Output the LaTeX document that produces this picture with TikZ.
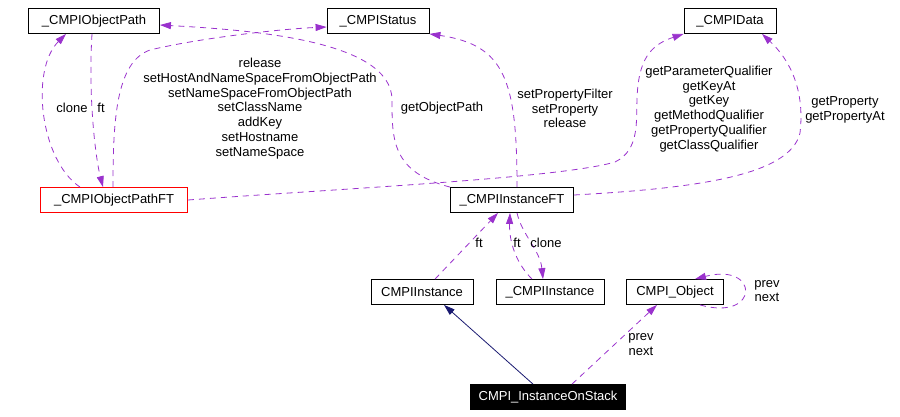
\documentclass[tikz,border=0pt]{standalone}
\usepackage{fontspec}
\setmainfont{Liberation Sans}
\usetikzlibrary{arrows.meta,calc}

\definecolor{orchid}{RGB}{154,50,205}
\definecolor{navyline}{RGB}{25,25,112}

\begin{document}
\begin{tikzpicture}[x=1pt,y=-1pt,
	cls/.style={draw,line width=0.8pt,inner sep=0pt,minimum height=25pt,font=\fontsize{13}{14.8}\selectfont},
	member/.style={draw=orchid,line width=0.8pt,dash pattern=on 6pt off 5pt,-{Triangle[length=11pt,width=7pt]}},
	inherit/.style={draw=navyline,line width=0.8pt,-{Triangle[length=11pt,width=7pt]}},
	lbl/.style={align=center,inner sep=0pt,font=\fontsize{13}{14.8}\selectfont}]
			\useasboundingbox (0,0) rectangle (900,416);
			\node[cls,minimum width=131pt] (op) at (94,21) {\_CMPIObjectPath};
			\node[cls,minimum width=102pt] (status) at (378,21) {\_CMPIStatus};
			\node[cls,minimum width=92pt] (data) at (730,21) {\_CMPIData};
			\node[cls,draw=red,minimum width=147pt] (opft) at (114,200) {\_CMPIObjectPathFT};
			\node[cls,minimum width=123pt] (ift) at (512,200) {\_CMPIInstanceFT};
			\node[cls,minimum width=102pt] (inst) at (422,292) {CMPIInstance};
			\node[cls,minimum width=108pt] (cinst) at (550,292) {\_CMPIInstance};
			\node[cls,minimum width=97pt] (obj) at (675,292) {CMPI\_Object};
			\node[cls,fill=black,text=white,minimum width=155pt] (stack) at (548,397) {CMPI\_InstanceOnStack};
			%
			\draw[member] ([xshift=-34pt]opft.north) .. controls (40,160) and (30,70) .. ([xshift=-28pt]op.south);
			\node[lbl] (lclone) at (72,108) {clone};
			\draw[member] ([xshift=-2pt]op.south) .. controls (88,100) and (96,160) .. ([xshift=-11pt]opft.north);
			\node[lbl] (lft) at (101,108) {ft};
			\draw[member] ([xshift=-1pt]opft.north) .. controls (113,120) and (116,62) .. (150,50) .. controls (200,38) and (280,29) .. ($(status.west)+(0,6)$);
			\node[lbl] (lstatus) at (260,108.5) {release\\setHostAndNameSpaceFromObjectPath\\setNameSpaceFromObjectPath\\setClassName\\addKey\\setHostname\\setNameSpace};
			%
			\draw[member] (ift.north west) .. controls (392,172) and (392,140) .. (392,100) .. controls (392,40) and (250,30) .. ($(op.east)+(0,4)$);
			\node[lbl] (lpath) at (442,108) {getObjectPath};
			\draw[member] ([xshift=5pt]ift.north) .. controls (517,80) and (505,45) .. (status.south east);
			\node[lbl] (lprop) at (565,108.5) {setPropertyFilter\\setProperty\\release};
			\draw[member] (opft.east) .. controls (350,188) and (560,178) .. (615,162) .. controls (640,150) and (636,120) .. (637,100) .. controls (638,60) and (650,45) .. (data.south west);
			\node[lbl] (lqual) at (709,109) {getParameterQualifier\\getKeyAt\\getKey\\getMethodQualifier\\getPropertyQualifier\\getClassQualifier};
			\draw[member] ($(ift.east)+(0,-5)$) .. controls (700,188) and (790,175) .. (800,133) .. controls (805,90) and (790,60) .. ([xshift=32pt]data.south);
			\node[lbl] (lget) at (845,109.5) {getProperty\\getPropertyAt};
			%
			\draw[member] ([xshift=13pt]inst.north) -- ([xshift=-14pt]ift.south);
			\node[lbl] (lft2) at (479,243) {ft};
			\draw[member] ([xshift=-18pt]cinst.north) .. controls (515,262) and (509,240) .. ([xshift=-2pt]ift.south);
			\node[lbl] (lft3) at (517,243) {ft};
			\draw[member] ([xshift=5pt]ift.south) .. controls (522,235) and (540,250) .. ([xshift=-7pt]cinst.north);
			\node[lbl] (lclone2) at (546,243) {clone};
			%
			\draw[inherit] ([xshift=-15pt]stack.north) -- ([xshift=22pt]inst.south);
			\draw[member] ([xshift=24pt]stack.north) -- ([xshift=-18pt]obj.south);
			\node[lbl] (lnext) at (641,344.5) {prev\\next};
			\draw[member] ([xshift=25pt]obj.south) .. controls (760,322) and (760,262) .. ([xshift=20pt]obj.north);
			\node[lbl] (lloop) at (767,291) {prev\\next};
		\end{tikzpicture}
\end{document}
